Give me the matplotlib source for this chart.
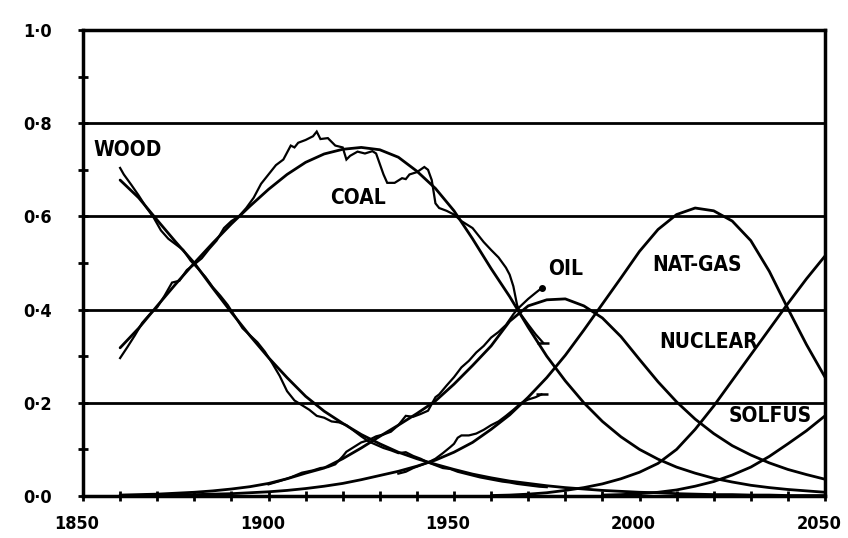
import matplotlib
matplotlib.use('Agg')
import matplotlib.pyplot as plt
from matplotlib.transforms import ScaledTranslation

plt.rcParams['font.family'] = ['DejaVu Sans']
plt.rcParams['font.weight'] = 'bold'
plt.rcParams['font.stretch'] = 'condensed'

# fitted (smooth) market-share curves, read every 5 years
years = list(range(1860, 2051, 5))
wood = [0.678, 0.640, 0.592, 0.545, 0.500, 0.446, 0.394, 0.344, 0.297, 0.254,
        0.214, 0.182, 0.156, 0.132, 0.112, 0.094, 0.080, 0.068, 0.057, 0.047,
        0.039, 0.032, 0.027, 0.022, 0.018, 0.015, 0.012, 0.010, 0.008, 0.007,
        0.005, 0.004, 0.003, 0.003, 0.002, 0.002, 0.001, 0.001, 0.001]
coal = [0.318, 0.360, 0.408, 0.455, 0.500, 0.543, 0.584, 0.622, 0.658, 0.690,
        0.716, 0.734, 0.744, 0.748, 0.743, 0.727, 0.697, 0.660, 0.612, 0.552,
        0.488, 0.428, 0.362, 0.300, 0.247, 0.200, 0.160, 0.127, 0.100, 0.079,
        0.062, 0.049, 0.038, 0.030, 0.023, 0.018, 0.014, 0.011, 0.008]
oil = [0.002, 0.003, 0.004, 0.006, 0.008, 0.011, 0.015, 0.020, 0.027, 0.037,
       0.049, 0.060, 0.080, 0.103, 0.128, 0.152, 0.177, 0.204, 0.240, 0.280,
       0.322, 0.375, 0.408, 0.421, 0.423, 0.408, 0.382, 0.342, 0.293, 0.245,
       0.202, 0.165, 0.134, 0.108, 0.088, 0.071, 0.057, 0.046, 0.036]
gas = [0.001, 0.001, 0.002, 0.002, 0.003, 0.004, 0.005, 0.007, 0.009, 0.012,
       0.016, 0.021, 0.027, 0.035, 0.044, 0.053, 0.064, 0.077, 0.094, 0.115,
       0.143, 0.174, 0.212, 0.254, 0.302, 0.356, 0.412, 0.468, 0.525, 0.572,
       0.604, 0.618, 0.612, 0.590, 0.548, 0.482, 0.402, 0.325, 0.255]
nuc_years = list(range(1960, 2051, 5))
nuclear = [0.001, 0.002, 0.004, 0.007, 0.012, 0.018, 0.026, 0.037, 0.051, 0.070,
           0.100, 0.143, 0.193, 0.248, 0.303, 0.358, 0.413, 0.466, 0.515]
sol_years = list(range(1990, 2051, 5))
solfus = [0.002, 0.003, 0.005, 0.008, 0.013, 0.021, 0.031, 0.045, 0.062, 0.085,
          0.112, 0.140, 0.172]

# historical data
wood_y = [1860, 1861, 1863, 1865, 1867, 1869, 1871, 1873, 1875, 1877, 1879, 1881,
          1883, 1885, 1887, 1889, 1891, 1893, 1895, 1897, 1899, 1901, 1903, 1905,
          1907, 1909, 1911, 1913, 1915, 1917, 1919, 1921, 1923, 1925, 1927, 1929,
          1931, 1933, 1935, 1937, 1939, 1941, 1943, 1945, 1947, 1949, 1951, 1953,
          1955, 1957, 1959, 1961, 1963, 1965, 1967, 1969, 1971, 1973, 1975]
wood_v = [0.704, 0.690, 0.668, 0.645, 0.620, 0.598, 0.570, 0.552, 0.540, 0.528,
          0.505, 0.488, 0.470, 0.448, 0.430, 0.410, 0.385, 0.360, 0.345, 0.330,
          0.310, 0.285, 0.258, 0.225, 0.205, 0.195, 0.185, 0.172, 0.168, 0.160,
          0.158, 0.152, 0.140, 0.128, 0.117, 0.110, 0.103, 0.098, 0.092, 0.094,
          0.086, 0.080, 0.072, 0.066, 0.060, 0.058, 0.052, 0.048, 0.044, 0.040,
          0.037, 0.034, 0.031, 0.029, 0.026, 0.024, 0.022, 0.020, 0.019]
coal_y = [1860, 1862, 1864, 1866, 1868, 1870, 1872, 1874, 1876, 1878, 1880, 1882,
          1884, 1886, 1888, 1890, 1892, 1894, 1896, 1898, 1900, 1902, 1904, 1906,
          1907, 1908, 1910, 1912, 1913, 1914, 1916, 1918, 1920, 1921, 1922, 1924,
          1926, 1928, 1929, 1931, 1932, 1934, 1936, 1937, 1938, 1940, 1942, 1943,
          1944, 1945, 1946, 1948, 1950, 1952, 1955, 1958, 1960, 1962, 1964, 1965,
          1966, 1967, 1968, 1970, 1972, 1974]
coal_v = [0.296, 0.320, 0.345, 0.372, 0.390, 0.405, 0.430, 0.458, 0.462, 0.485,
          0.497, 0.510, 0.530, 0.548, 0.575, 0.590, 0.600, 0.618, 0.640, 0.670,
          0.690, 0.710, 0.722, 0.752, 0.748, 0.758, 0.764, 0.772, 0.782, 0.766,
          0.768, 0.752, 0.748, 0.722, 0.730, 0.739, 0.735, 0.740, 0.735, 0.690,
          0.672, 0.672, 0.682, 0.680, 0.690, 0.695, 0.706, 0.700, 0.678, 0.628,
          0.618, 0.612, 0.604, 0.590, 0.575, 0.545, 0.528, 0.512, 0.490, 0.475,
          0.450, 0.410, 0.390, 0.368, 0.347, 0.329]
oil_y = [1900, 1903, 1906, 1909, 1912, 1914, 1916, 1918, 1920, 1921, 1923, 1925,
         1927, 1929, 1931, 1933, 1935, 1937, 1939, 1941, 1943, 1945, 1946, 1948,
         1950, 1952, 1954, 1956, 1958, 1960, 1962, 1964, 1966, 1967, 1968, 1970,
         1972, 1973.6]
oil_v = [0.025, 0.032, 0.040, 0.050, 0.055, 0.060, 0.062, 0.068, 0.085, 0.095,
         0.105, 0.115, 0.120, 0.128, 0.132, 0.138, 0.152, 0.172, 0.170, 0.176,
         0.183, 0.212, 0.218, 0.237, 0.255, 0.276, 0.290, 0.308, 0.322, 0.340,
         0.352, 0.367, 0.390, 0.400, 0.408, 0.423, 0.436, 0.446]
gas_y = [1935, 1937, 1939, 1941, 1943, 1945, 1947, 1949, 1950, 1951, 1952, 1954,
         1956, 1958, 1960, 1962, 1964, 1966, 1968, 1970, 1972, 1973.6]
gas_v = [0.048, 0.052, 0.060, 0.066, 0.072, 0.080, 0.092, 0.105, 0.112, 0.125,
         0.130, 0.130, 0.134, 0.142, 0.152, 0.160, 0.172, 0.185, 0.199, 0.207,
         0.212, 0.218]

y_ticks = [0.0, 0.2, 0.4, 0.6, 0.8, 1.0]
y_labels = ['0·0', '0·2', '0·4', '0·6', '0·8', '1·0']
x_ticks = [1850, 1900, 1950, 2000, 2050]

fig = plt.figure(figsize=(8.48, 5.38), dpi=100)
ax = fig.add_axes([83 / 848, 1 - 496 / 538, 742 / 848, 466 / 538])

for v in [0.2, 0.4, 0.6, 0.8]:
    ax.axhline(v, color='black', lw=2.0, zorder=1)

kw = dict(color='black', lw=2.0, solid_capstyle='round', zorder=3)
for v in [wood, coal, oil, gas]:
    ax.plot(years, v, **kw)
ax.plot(nuc_years, nuclear, **kw)
ax.plot(sol_years, solfus, **kw)

dk = dict(color='black', lw=1.6, solid_joinstyle='miter', zorder=3)
ax.plot(wood_y, wood_v, **dk)
ax.plot(coal_y, coal_v, marker='_', markevery=[-1], ms=9, mew=1.8, **dk)
ax.plot(oil_y, oil_v, marker='o', markevery=[-1], ms=4, **dk)
ax.plot(gas_y, gas_v, marker='_', markevery=[-1], ms=9, mew=1.8, **dk)

lab = dict(fontsize=15, fontweight='bold', fontstretch='condensed',
           ha='center', va='center')
ax.text(1862, 0.742, 'WOOD', **lab)
ax.text(1924, 0.639, 'COAL', **lab)
ax.text(1980, 0.487, 'OIL', **lab)
ax.text(2015.4, 0.495, 'NAT-GAS', **lab)
ax.text(2018.5, 0.331, 'NUCLEAR', **lab)
ax.text(2035.2, 0.172, 'SOLFUS', **lab)

ax.set_xlim(1850, 2050)
ax.set_ylim(0, 1.0)
ax.set_xticks(x_ticks)
ax.set_xticks(range(1850, 2051, 10), minor=True)
ax.set_yticks(y_ticks)
ax.set_yticklabels(y_labels)
ax.set_yticks([i / 10 for i in range(11)], minor=True)
ax.tick_params(which='both', direction='inout', length=7, width=2, colors='black',
               labelsize=13)
ax.tick_params(axis='y', pad=19)
ax.tick_params(axis='x', pad=10)
for t in ax.get_xticklabels():
    t.set_fontweight('bold')
    t.set_transform(t.get_transform() + ScaledTranslation(-0.06, 0, fig.dpi_scale_trans))
for t in ax.get_yticklabels():
    t.set_fontweight('bold')

for s in ax.spines.values():
    s.set_linewidth(2.5)

fig.savefig('out.png', dpi=100)
